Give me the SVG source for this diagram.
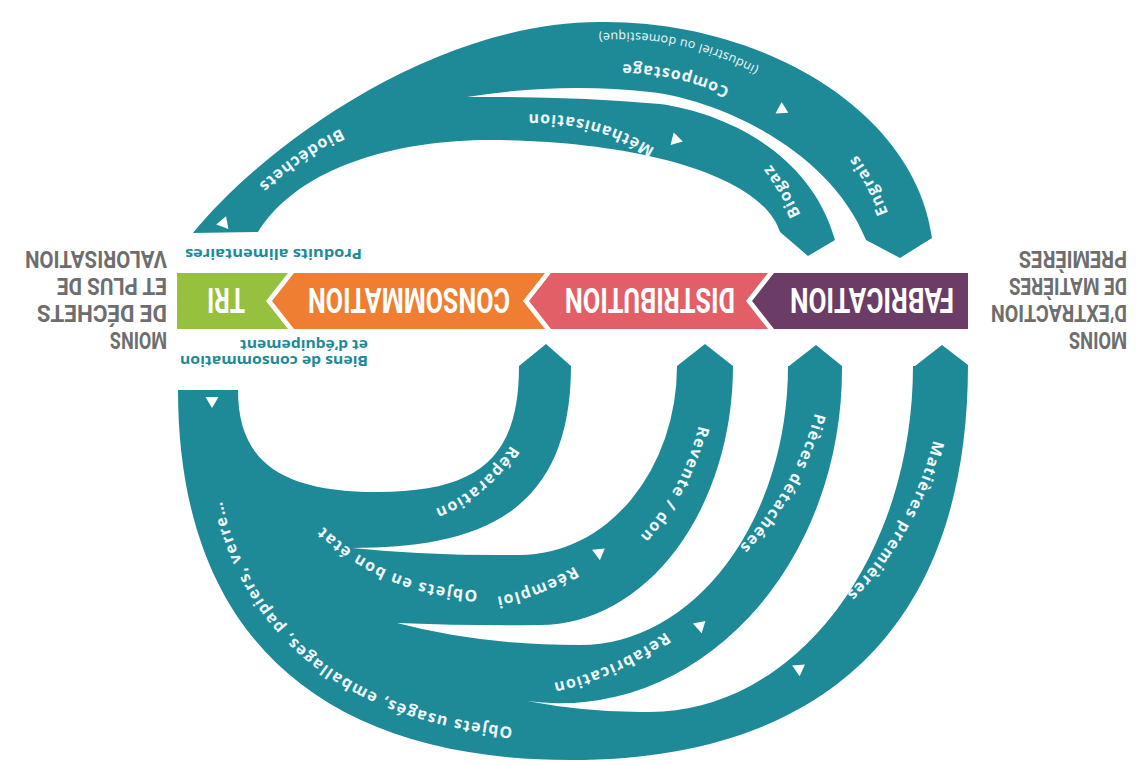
<svg xmlns="http://www.w3.org/2000/svg" xmlns:xlink="http://www.w3.org/1999/xlink" width="1145" height="765" viewBox="0 0 1145 765">
  <style>
    .band{fill:#1e8a98}
    .gap{fill:#ffffff}
    .tri{fill:#ffffff}
    .lbl{font-family:"Open Sans","Noto Sans","DejaVu Sans",sans-serif;font-weight:700;font-size:16px;fill:#eef8f8;letter-spacing:1.3px}
    .sub{font-weight:400;font-size:12.5px;letter-spacing:0.5px}
    .stage{font-family:Roboto,"Liberation Sans",sans-serif;font-weight:700;font-size:35px;fill:#ffffff;text-anchor:middle}
    .side{font-family:Roboto,"Liberation Sans",sans-serif;font-weight:700;font-size:23px;fill:#6e6e6e}
    .note{font-family:"Open Sans","Noto Sans","DejaVu Sans",sans-serif;font-weight:700;font-size:14px;fill:#1e8a98}
  </style>
  <defs>
    <path id="tri" d="M6,0 L-5,-6.5 L-5,6.5 Z"/>
    <!-- baselines for the curved labels -->
    <path id="tp-biodechets" d="M428.6,100.1 A335 335 0 0 0 199.6,257.5"/>
    <path id="tp-compost" d="M785.6,124 A255 255 0 0 0 555.7,73"/>
    <path id="tp-indus" d="M813.1,106.1 A287 287 0 0 0 533,46.3"/>
    <path id="tp-engrais" d="M908.7,319.3 A287 287 0 0 0 778,78.6"/>
    <path id="tp-metha" d="M694.5,180.1 A225 225 0 0 0 477.2,121.9"/>
    <path id="tp-biogaz" d="M828.4,339.2 A293 293 0 0 0 673,80.5"/>
    <path id="tp-repar" d="M530.6,391.9 A155 155 0 0 1 378,520"/>
    <path id="tp-revente" d="M706,365 A256 256 0 0 1 593.2,577.2"/>
    <path id="tp-reemploi" d="M606.5,542.5 A236.6 236.6 0 0 1 455.8,601.5"/>
    <path id="tp-bonetat" d="M519.1,586.6 A225 225 0 0 1 295.7,494.1"/>
    <path id="tp-refab" d="M720.3,578.3 A290 290 0 0 1 475.5,689.3"/>
    <path id="tp-pieces" d="M822.9,365.7 A295 295 0 0 1 702.4,578.7"/>
    <path id="tp-matieres" d="M941.7,389.8 A330 330 0 0 1 807,628"/>
    <path id="tp-usages" d="M575,730 C330,730 210,612 210,392"/>
  </defs>

  <rect width="1145" height="765" fill="#ffffff"/>

  <g id="connectors">
    <!-- loop leaving TRI towards the three upstream stages -->
    <g id="loop-recovery">
      <path class="band" d="M178,390 C178,630 315,760 570,760 C829,760 968,622 968,365 L942,345 L915,366 L842,366 L816,345 L789,366 L733,366 L705,344 L677,366 L571,366 L546,344 L519,366 C519,457 480,492 378,492 C280,492 238,461 238,390 Z"/>
      <path class="gap" d="M352,548 C470,548 571,520 571,366 L571,358 L677,358 L677,366 A157 189 0 0 1 520,555 Q430,556 352,548 Z"/>
      <path class="gap" d="M397,623 Q470,626 540,625 A193 259 0 0 0 733,366 L733,358 L788,358 L788,366 A208 279 0 0 1 580,645 Q480,645 397,623 Z"/>
      <path class="gap" d="M527,701 A282 334 0 0 0 842,366 L842,358 L913,358 L913,366 A263 346 0 0 1 650,712 Q590,713 527,701 Z"/>
      <use href="#tri" class="tri" transform="translate(212 402) rotate(90)"/>
      <use href="#tri" class="tri" transform="translate(600 552) rotate(-37)"/>
      <use href="#tri" class="tri" transform="translate(701 625) rotate(-42)"/>
      <use href="#tri" class="tri" transform="translate(800 668) rotate(-35)"/>
      <text class="lbl"><textPath href="#tp-repar" startOffset="50%" text-anchor="middle">Réparation</textPath></text>
      <text class="lbl"><textPath href="#tp-revente" startOffset="50%" text-anchor="middle">Revente / don</textPath></text>
      <text class="lbl"><textPath href="#tp-reemploi" startOffset="50%" text-anchor="middle">Réemploi</textPath></text>
      <text class="lbl"><textPath href="#tp-bonetat" startOffset="50%" text-anchor="middle">Objets en bon état</textPath></text>
      <text class="lbl"><textPath href="#tp-refab" startOffset="50%" text-anchor="middle">Refabrication</textPath></text>
      <text class="lbl"><textPath href="#tp-pieces" startOffset="50%" text-anchor="middle">Pièces détachées</textPath></text>
      <text class="lbl"><textPath href="#tp-matieres" startOffset="50%" text-anchor="middle">Matières premières</textPath></text>
      <text class="lbl"><textPath href="#tp-usages" startOffset="62">Objets usagés, emballages, papiers, verre…</textPath></text>
    </g>

    <!-- organic waste loop -->
    <g id="loop-organic">
      <path class="band" d="M193,233 C260,150 430,22 600,22 C760,20 915,110 932,238 L900,258 L866,240 L835,240 L808,256 L780,232 C760,170 620,140 490,140 C400,140 300,165 258,232 Z"/>
      <path class="gap" d="M467,97 Q560,82 650,92 C720,100 830,150 866,240 L866,246 L835,246 L835,240 C810,150 720,112 660,104 Q570,96 467,97 Z"/>
      <use href="#tri" class="tri" transform="translate(224 222) rotate(-70)"/>
      <use href="#tri" class="tri" transform="translate(783 110) rotate(28)"/>
      <use href="#tri" class="tri" transform="translate(677 140) rotate(14)"/>
      <text class="lbl"><textPath href="#tp-biodechets" startOffset="50%" text-anchor="middle">Biodéchets</textPath></text>
      <text class="lbl"><textPath href="#tp-compost" startOffset="50%" text-anchor="middle">Compostage</textPath></text>
      <text class="lbl sub"><textPath href="#tp-indus" startOffset="50%" text-anchor="middle">(industriel ou domestique)</textPath></text>
      <text class="lbl"><textPath href="#tp-engrais" startOffset="50%" text-anchor="middle">Engrais</textPath></text>
      <text class="lbl"><textPath href="#tp-metha" startOffset="50%" text-anchor="middle">Méthanisation</textPath></text>
      <text class="lbl"><textPath href="#tp-biogaz" startOffset="50%" text-anchor="middle">Biogaz</textPath></text>
    </g>
  </g>

  <!-- stages of the chain -->
  <g id="stage-tri">
    <polygon points="177,273 288,273 266,301 288,329 177,329" fill="#95c13e"/>
    <text class="stage" transform="rotate(180 572.5 382.5)" x="919" y="477" textLength="38" lengthAdjust="spacingAndGlyphs">TRI</text>
  </g>
  <g id="stage-consommation">
    <polygon points="294,273 545,273 523,301 545,329 294,329 272,301" fill="#ef7e32"/>
    <text class="stage" transform="rotate(180 572.5 382.5)" x="736" y="477" textLength="202" lengthAdjust="spacingAndGlyphs">CONSOMMATION</text>
  </g>
  <g id="stage-distribution">
    <polygon points="551,273 768,273 746,301 768,329 551,329 529,301" fill="#e25f68"/>
    <text class="stage" transform="rotate(180 572.5 382.5)" x="495" y="477" textLength="170" lengthAdjust="spacingAndGlyphs">DISTRIBUTION</text>
  </g>
  <g id="stage-fabrication">
    <polygon points="774,273 968,273 968,329 774,329 752,301" fill="#6b3d66"/>
    <text class="stage" transform="rotate(180 572.5 382.5)" x="273" y="477" textLength="164" lengthAdjust="spacingAndGlyphs">FABRICATION</text>
  </g>

  <!-- side statements and flow notes -->
  <g id="note-extraction" transform="rotate(180 572.5 382.5)">
    <text class="side" x="18" y="433" textLength="58" lengthAdjust="spacingAndGlyphs">MOINS</text>
    <text class="side" x="18" y="460" textLength="136" lengthAdjust="spacingAndGlyphs">D’EXTRACTION</text>
    <text class="side" x="18" y="487" textLength="118" lengthAdjust="spacingAndGlyphs">DE MATIÈRES</text>
    <text class="side" x="18" y="514" textLength="108" lengthAdjust="spacingAndGlyphs">PREMIÈRES</text>
  </g>
  <g id="note-dechets" transform="rotate(180 572.5 382.5)">
    <text class="side" x="978" y="433" textLength="57" lengthAdjust="spacingAndGlyphs">MOINS</text>
    <text class="side" x="978" y="460" textLength="130" lengthAdjust="spacingAndGlyphs">DE DÉCHETS</text>
    <text class="side" x="978" y="487" textLength="110" lengthAdjust="spacingAndGlyphs">ET PLUS DE</text>
    <text class="side" x="978" y="514" textLength="142" lengthAdjust="spacingAndGlyphs">VALORISATION</text>
  </g>
  <g id="note-produits" transform="rotate(180 572.5 382.5)">
    <text class="note" x="783" y="516" textLength="177" lengthAdjust="spacingAndGlyphs">Produits alimentaires</text>
  </g>
  <g id="note-biens" transform="rotate(180 572.5 382.5)">
    <text class="note" x="777" y="409" textLength="188" lengthAdjust="spacingAndGlyphs">Biens de consommation</text>
    <text class="note" x="777" y="425" textLength="128" lengthAdjust="spacingAndGlyphs">et d’équipement</text>
  </g>
</svg>
